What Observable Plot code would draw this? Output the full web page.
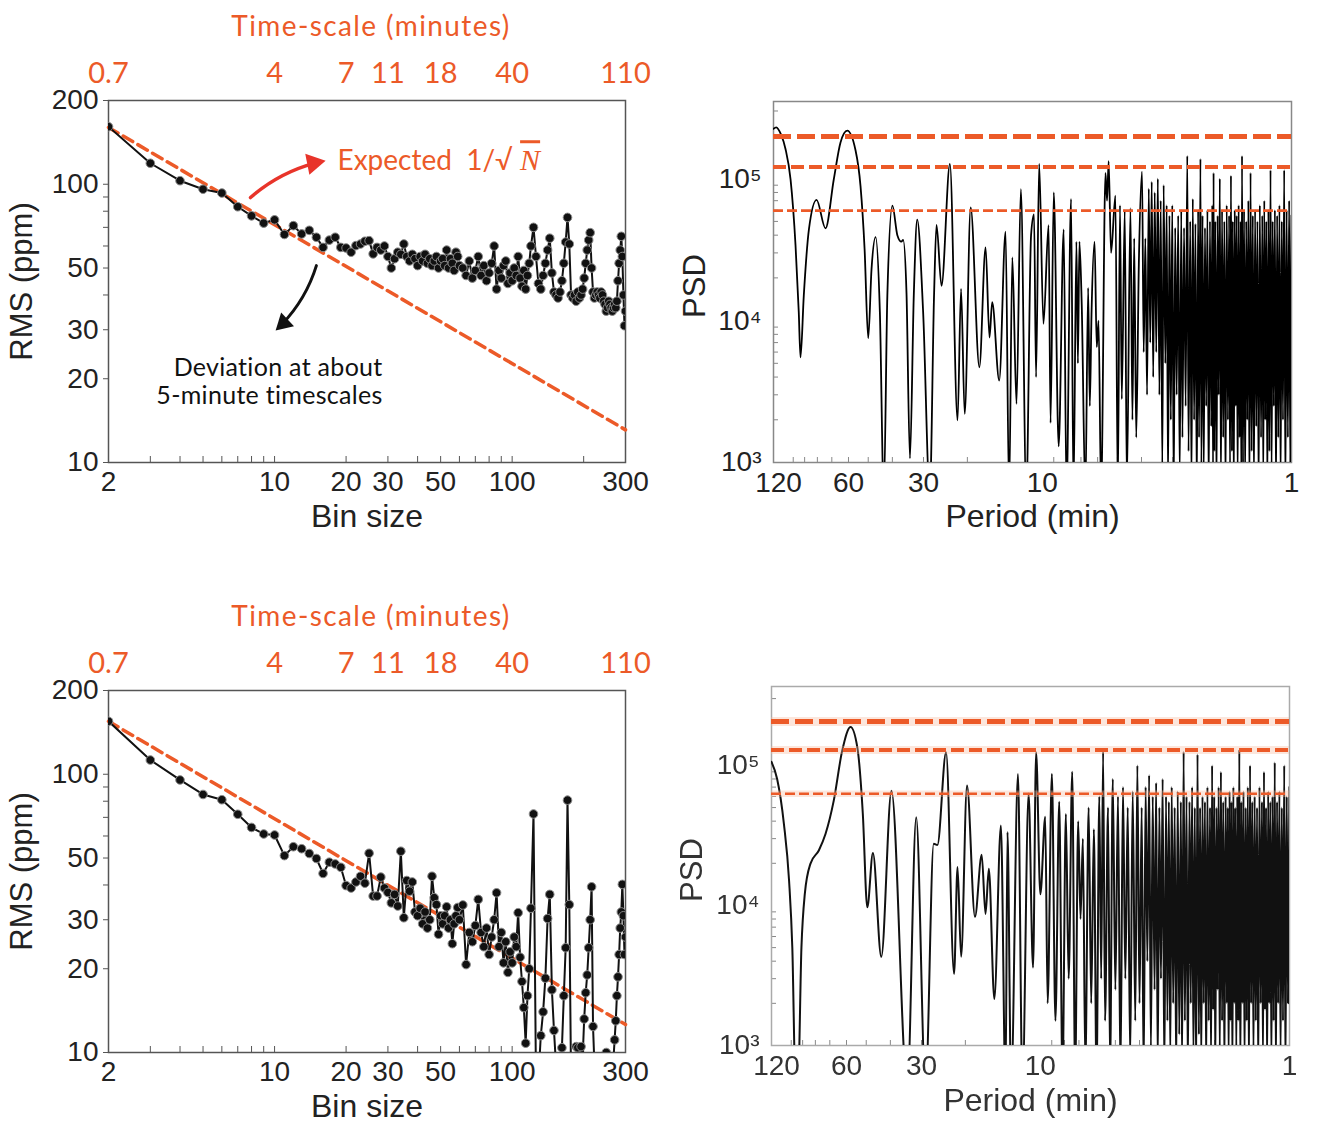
<!DOCTYPE html>
<html>
<head>
<meta charset="utf-8">
<script src="https://cdn.jsdelivr.net/npm/d3@7"></script>
<script src="https://cdn.jsdelivr.net/npm/@observablehq/plot@0.6"></script>
<style>
  body { margin: 0; background: #fff; }
  #page { position: relative; width: 1330px; height: 1130px; overflow: hidden; }
</style>
</head>
<body>
<div id="page"></div>
<script>
// ---- axis ticks / labels ----
const binTicks = [2, 10, 20, 30, 50, 100, 300];
const timeLabels = ["0.7", "4", "7", "11", "18", "40", "110"];
const binMinor = [3, 4, 5, 6, 7, 8, 9, 10, 20, 30, 40, 50, 60, 70, 80, 90, 100, 200, 300];
const rmsTicks = [10, 20, 30, 50, 100, 200];
const rmsMinor = [10, 20, 30, 40, 50, 60, 70, 80, 90, 100, 200];
const periodTicks = [60, 30, 10, 1];
const periodFirstTick = [120];
const periodMinor = [2, 3, 4, 5, 6, 7, 8, 9, 20, 30, 40, 50, 60, 70, 80, 90, 100];
const psdTicks = [1e3, 1e4, 1e5];
const psdLabels = ["10³", "10⁴", "10⁵"];
const psdMinor = [2e3, 3e3, 4e3, 5e3, 6e3, 7e3, 8e3, 9e3, 2e4, 3e4, 4e4, 5e4, 6e4, 7e4, 8e4, 9e4, 2e5, 3e5];

// ---- RMS vs bin size, top ----
const rmsTop = [
  [2,161],[3,119],[4,103],[5,96],[6,93],[7,83],[8,77],[9,72.5],[10,74.5],[11,66],[12,71],[13,66.3],[14,68.3],[15,64.5],
  [16,59.3],[17,63],[18,64.5],[19,59.3],[20,59],[21,57],[22,60.2],[23,61],[24,62.4],[25,62.7],[26,56.2],[27,59.3],[28,58],
  [29,60],[30,55],[31,50],[32,54],[33,57],[34,56],[35,61],[36,55],[37,53],[38,56],[39,54],[40,51],[41,55],[42,53],[43,56],
  [44,52],[45,54],[46,51],[47,53],[48,55],[49,50],[50,53],[51,54],[52,51],[53,58],[54,50],[55,54],[56,52],[57,49],[58,57],
  [59,55],[60,51],[62,50],[64,47],[66,53],[68,46],[70,49],[72,55],[74,47],[76,51],[78,45],[80,48],[82,52],[84,60],[86,42],
  [88,49],[90,46],[92,51],[94,53],[96,44],[98,48],[100,45],[102,50],[104,47],[106,55],[108,46],[110,43],[112,49],[114,42],
  [116,47],[118,52],[120,60],[123,70],[126,55],[129,44],[132,42],[135,47],[138,52],[141,58],[144,64],[147,48],[150,41],
  [153,40],[156,39],[159,41],[162,45],[165,52],[168,62],[171,76],[174,61],[177,40],[180,39],[183,40],[186,38],[189,41],
  [192,39],[195,40],[198,42],[201,46],[204,52],[207,58],[210,63],[213,67],[216,50],[219,41],[222,39],[225,40],[228,41],
  [231,40],[234,39],[237,41],[240,40],[243,38],[246,37],[249,35],[252,36],[255,38],[258,37],[261,36],[264,35],[267,36],
  [270,37],[273,36],[276,38],[279,45],[282,52],[285,58],[288,65],[291,55],[294,40],[297,31],[300,35]
];
const expectedTop = [[2, 160], [300, 13.1]];

// ---- RMS vs bin size, bottom ----
const rmsBottom = [
  [2,155],[3,112.5],[4,95.4],[5,84.6],[6,81],[7,71.8],[8,64.4],[9,61],[10,60.5],[11,51],[12,54.9],[13,54],[14,51.9],
  [15,49.8],[16,44],[17,48.3],[18,47.6],[19,46.3],[20,39.8],[21,39],[22,41],[23,43],[24,40.6],[25,52],[26,36.5],[27,36.5],
  [28,42.7],[29,39],[30,37.6],[31,34.5],[32,37],[33,33.6],[34,52.9],[35,30.5],[36,41.5],[37,38],[38,41],[39,32],[40,31],
  [41,33],[42,29],[43,32],[44,28],[45,30],[46,43],[47,36],[48,34],[49,26.6],[50,31],[51,29],[52,31],[53,33.4],[54,28],
  [55,30],[56,24.6],[57,29],[58,31],[59,33.2],[60,30],[62,33.9],[64,20.7],[66,27],[68,25],[70,28.6],[72,35.5],[74,27],
  [76,24],[78,28],[80,22.5],[82,26],[84,30],[86,37.5],[88,24],[90,27],[92,21],[94,25],[96,19.4],[98,23],[100,21],[102,26],
  [104,24],[106,31.8],[108,22],[110,18],[112,14.5],[114,10.8],[116,16],[118,20],[120,33],[123,72],[126,8],[129,8],
  [132,11.5],[135,14],[138,18.5],[141,30.3],[144,37],[147,16.8],[150,12],[153,9],[156,8],[159,9],[162,10.4],[165,16],
  [168,23.8],[171,80.7],[174,34],[177,8],[180,9],[183,8.5],[186,10.5],[189,10.4],[192,9],[195,10.5],[198,9.5],[201,13.2],
  [204,16.4],[207,19],[210,23.8],[213,30],[216,39.4],[219,12.4],[222,9],[225,8],[228,8.5],[231,9],[234,8],[237,9],[240,8.5],
  [243,8],[246,9.5],[249,10],[252,9],[255,8],[258,8.5],[261,9],[264,8],[267,9.5],[270,11.1],[273,13],[276,16],[279,18.7],
  [282,22.5],[285,28],[288,32],[291,40.2],[294,31],[297,22.5],[300,26]
];
const expectedBottom = [[2, 155], [300, 12.6]];

// ---- PSD vs period, top ----
const psdTop = [
  [120,2.25e5],[117,2.3e5],[112,2.05e5],[107.4,1.62e5],[102.5,9.9e4],[97.9,3.4e4],[95,1.14e4],[93.5,5.5e3],[90.7,1.5e4],
  [86.5,4.4e4],[80.6,7.1e4],[74.2,4.47e4],[68.7,9.95e4],[64.6,1.8e5],[60.7,2.18e5],[56.2,1.58e5],[53.7,8.9e4],[51.7,3.17e4],
  [50,7.5e3],[48.5,2.3e4],[46.7,3.87e4],[44.9,1.15e4],[43.3,600],[41.9,1.5e4],[40,6.46e4],[38.2,4.0e4],[36.8,3.6e4],
  [36.2,3.7e4],[35.1,1.56e4],[34,1.07e3],[32.8,1.55e4],[31.8,5.14e4],[30.1,1.15e4],[28.3,600],[27.2,1.55e4],[26.6,4.72e4],
  [25.4,1.76e4],[23.5,1.27e5],[21.9,1.98e3],[21.2,1.67e4],[20.5,2.2e3],[19.4,6.28e4],[17.9,4.69e3],[16.9,3.28e4],[16.3,7.6e3],
  [15.9,1.35e4],[14.9,3.78e3],[14.05,4.24e4],[13.6,600],[13.2,2.79e4],[12.7,2.59e3],[12.2,8.45e4],[11.6,600],[11.1,4.0e4],
  [10.8,5.6e4],[10.6,4.0e3],[10.3,1.27e5],[9.9,9.5e3],[9.44,4.7e4],[9.27,1.9e3],[9.0,8.0e4],[8.6,1.3e3],
  [8.21,4.4e4],[8.0,600],[7.67,7.2e4],[7.5,600],[7.3,3.6e4],[7.2,5e3],[7.1,3.6e4],[6.95,1.3e4],[6.72,600],[6.55,1.7e4],
  [6.45,2.5e3],[6.35,1.1e4],[6.17,3.6e4],[6.05,6.5e3],[5.95,1.0e4],[5.81,600],[5.58,1.1e5],[5.5,7e4],[5.42,1.33e5],[5.3,3e4],
  [5.09,7.6e4],[4.98,600],[4.88,6.5e4],[4.8,2.8e3],[4.67,6e4],[4.58,700],[4.43,6.2e4],[4.35,2e3],[4.28,3.8e4],[4.2,1.5e3],
  [4.1,2.5e4],[3.98,1.12e5],[3.92,6e3],[3.86,3.8e4],[3.8,3e3],
  [3.74,8.5e4],[3.69,7e3],[3.64,9.5e4],[3.59,4e3],[3.54,8e4],[3.49,6e3],[3.44,1.0e5],[3.39,3e3],[3.35,7e4],[3.3,900],
  [3.26,9e4],[3.21,5e3],[3.17,6.5e4],[3.13,700],[3.09,5.5e4],[3.05,2e3],[3.01,6.5e4],[2.97,600],[2.93,4.5e4],[2.89,3e3],
  [2.85,5.5e4],[2.81,800],[2.77,6e4],[2.74,1.5e3],[2.7,4.5e4],[2.66,2.5e3],[2.62,1.45e5],[2.59,1.2e3],[2.55,5e4],[2.52,700],
  [2.49,7.2e4],[2.46,2e3],[2.43,4.8e4],[2.4,600],[2.37,6e4],[2.35,1.5e3],[2.32,1.38e5],[2.3,900],
  [2.275,5.5e4],[2.25,800],[2.225,4.5e4],[2.2,2.5e3],[2.175,6e4],[2.15,600],[2.125,5e4],[2.1,1.8e3],[2.08,6.5e4],[2.065,700],
  [2.055,1.1e5],[2.04,1.2e3],[2.02,5e4],[2.0,600],[1.98,5.5e4],[1.96,3e3],[1.94,1.0e5],[1.92,700],[1.9,6e4],[1.88,1.5e3],
  [1.86,5e4],[1.84,600],[1.82,6.5e4],[1.8,2e3],[1.78,5.5e4],[1.765,800],[1.75,1.05e5],[1.735,1.2e3],[1.72,5e4],[1.705,600],
  [1.69,6e4],[1.675,2.5e3],[1.66,5.5e4],[1.645,700],[1.63,6.5e4],[1.615,1.5e3],[1.6,5e4],[1.59,600],[1.58,1.45e5],[1.565,1e3],
  [1.55,6e4],[1.535,700],[1.52,5e4],[1.505,2e3],[1.49,7e4],[1.475,600],[1.46,1.1e5],[1.445,1.2e3],[1.43,5.5e4],[1.415,700],
  [1.4,6e4],[1.385,1.8e3],[1.37,5e4],[1.355,600],[1.34,6.5e4],[1.325,1.5e3],[1.31,5.5e4],[1.298,700],[1.286,7e4],[1.274,2e3],
  [1.262,5e4],[1.25,600],[1.238,6e4],[1.226,1.2e3],[1.214,1.15e5],[1.202,800],[1.19,5e4],[1.178,2.5e3],[1.166,6e4],[1.154,600],
  [1.142,5.5e4],[1.13,1.5e3],[1.118,6.5e4],[1.106,700],[1.094,5e4],[1.082,2e3],[1.07,1.15e5],[1.058,600],[1.046,6e4],
  [1.034,1.5e3],[1.022,7e4],[1.011,800],[1.0,5.5e4]
];
const levelsTop = [1.98e5, 1.21e5, 5.96e4];

// ---- PSD vs period, bottom ----
const psdBottom = [
  [120,1.06e5],[113.9,8.0e4],[107,3.83e4],[102,1.5e4],[99,5.0e3],[96,500],[94,500],[91,5e3],[88.2,1.21e4],[83.7,1.99e4],
  [77.5,2.47e4],[72.8,3.25e4],[67.5,5.6e4],[62.4,1.28e5],[57.8,1.88e5],[54.3,1.35e5],[51.6,4.52e4],[49.5,9.7e3],[47,2.37e4],
  [43.5,4.3e3],[39.6,6.6e4],[34.2,500],[31.5,4.27e4],[28.9,500],[26.8,2.76e4],[25.9,2.7e4],[23.9,1.24e5],[22.2,3.25e3],
  [21.5,1.88e4],[20.8,4.3e3],[19.7,7.2e4],[18.3,8.3e3],[17.2,2.3e4],[16.6,8.7e3],[16.1,1.83e4],[15.3,2.15e3],[14.4,3.73e4],
  [13.8,500],[13.55,3.34e4],[13.1,500],[12.3,8.7e4],[11.8,500],[11.15,6.3e4],[10.7,3.6e3],[10.4,1.24e5],[10.0,1.2e4],
  [9.56,4.3e4],[9.35,2e3],[8.99,8.7e4],
  [8.7,1.5e3],[8.4,5.5e4],[8.15,600],[7.9,4.5e4],[7.7,3e3],[7.45,9e4],[7.25,600],[7.05,4e4],[6.9,8e3],[6.75,3e4],[6.6,700],
  [6.4,5e4],[6.25,2e3],[6.1,3.5e4],[5.95,600],[5.8,6e4],[5.7,3e3],[5.6,1.25e5],[5.5,1.5e3],[5.35,5e4],[5.25,700],[5.12,8e4],
  [5.0,2.5e3],[4.88,6e4],[4.77,600],[4.66,7e4],[4.56,3e3],[4.46,5e4],[4.36,800],[4.26,6.5e4],[4.16,1.5e3],[4.08,1.0e5],
  [4.0,2e3],[3.92,5e4],[3.85,600],[3.78,7e4],[3.72,4e3],[3.66,8.5e4],[3.6,900],[3.54,6e4],[3.48,2.5e3],[3.43,7.5e4],
  [3.38,700],[3.33,5e4],[3.28,3e3],[3.23,8e4],[3.18,600],[3.13,6e4],[3.09,1.5e3],[3.05,5.5e4],[3.01,800],[2.97,7e4],
  [2.93,2e3],[2.89,5e4],[2.85,600],[2.81,6.5e4],[2.77,1.2e3],[2.73,5.5e4],[2.7,700],[2.66,1.25e5],[2.63,1.5e3],[2.59,6e4],
  [2.56,600],[2.52,5.5e4],[2.49,2e3],[2.46,7e4],[2.43,800],[2.4,5e4],[2.37,600],[2.34,1.2e5],[2.31,1.2e3],
  [2.285,5e4],[2.26,700],[2.235,6e4],[2.21,2e3],[2.185,5.5e4],[2.16,600],[2.135,7e4],[2.11,1.5e3],[2.085,5e4],[2.065,700],
  [2.045,1.0e5],[2.025,1.8e3],[2.005,6e4],[1.985,600],[1.965,5e4],[1.945,2.5e3],[1.925,7e4],[1.905,800],[1.885,9e4],
  [1.865,1.5e3],[1.845,5.5e4],[1.825,600],[1.805,6e4],[1.785,2e3],[1.77,5e4],[1.755,700],[1.74,6.5e4],[1.725,1.5e3],
  [1.71,5.5e4],[1.695,600],[1.68,7e4],[1.665,2e3],[1.65,5e4],[1.635,800],[1.62,6e4],[1.605,1.5e3],[1.59,1.3e5],[1.575,600],
  [1.56,5.5e4],[1.545,2e3],[1.53,6.5e4],[1.515,700],[1.5,5e4],[1.485,1.5e3],[1.47,7e4],[1.455,600],[1.44,1.0e5],[1.425,2e3],
  [1.41,5.5e4],[1.395,800],[1.38,6e4],[1.365,1.5e3],[1.35,5e4],[1.335,600],[1.32,7e4],[1.305,2e3],[1.29,5.5e4],[1.278,700],
  [1.266,9e4],[1.254,1.8e3],[1.242,5e4],[1.23,600],[1.218,6.5e4],[1.206,2e3],[1.194,5.5e4],[1.182,700],[1.17,6e4],
  [1.158,1.5e3],[1.146,1.05e5],[1.134,600],[1.122,5.5e4],[1.11,2e3],[1.098,6.5e4],[1.086,800],[1.074,5e4],[1.062,1.5e3],
  [1.05,1.0e5],[1.038,600],[1.026,6e4],[1.014,2e3],[1.0,7e4]
];
const levelsBottom = [2.06e5, 1.29e5, 6.28e4];

// ---- annotations (top RMS panel, data units) ----
const redArrow = [{x1: 7.92, y1: 89.6, x2: 16.4, y2: 121.6}];
const blackArrow = [{x1: 15.0, y1: 51, x2: 10.1, y2: 29.8}];
const expectedNote = [{bin: 18.4, rms: 121.6, text: "Expected  1/√"}];
const expectedN = [{bin: 119, rms: 121.6, text: "N"}];
const deviationNote = [{bin: 28.5, rms: 19.7, text: "Deviation at about\n5-minute timescales"}];

// ---- styling ----
const orange = "#ec5a28";
const red = "#e8342a";
const ink = "#222";
const sans = "'Liberation Sans', Arial, sans-serif";
const timeByBin = new Map(binTicks.map((b, i) => [b, timeLabels[i]]));
const psdLabelByTick = new Map(psdTicks.map((t, i) => [t, psdLabels[i]]));

const asRms = (rows) => rows.map(([bin, rms]) => ({bin, rms}));
const asPsd = (rows) => rows.map(([period, psd]) => ({period, psd}));

function rmsPanel(series, expected, extra) {
  return Plot.plot({
    width: 660, height: 540,
    marginTop: 100, marginRight: 35, marginBottom: 78, marginLeft: 108,
    style: {fontFamily: sans, background: "transparent", overflow: "visible", color: ink},
    x: {type: "log", domain: [2, 300], label: null},
    y: {type: "log", domain: [10, 200], label: null},
    marks: [
      Plot.axisY(rmsMinor, {tickSize: 5, tickFormat: () => "", stroke: "#555", label: null}),
      Plot.axisY(rmsTicks, {tickSize: 0, tickPadding: 10, fontSize: 28, tickFormat: d => String(d), color: ink, label: null}),
      Plot.axisX(binMinor, {tickSize: 6, dy: -6, tickFormat: () => "", stroke: "#555", label: null}),
      Plot.text(binTicks, {x: d => d, text: d => String(d), frameAnchor: "bottom", dy: 20, lineAnchor: "middle",
        fontSize: 28, fill: ink}),
      Plot.text(binTicks, {x: d => d, text: d => timeByBin.get(d), frameAnchor: "top", dy: -27, lineAnchor: "middle",
        fontSize: 29, fontFamily: "Lato", fill: orange}),
      Plot.frame({stroke: "#555", strokeWidth: 1.5}),
      Plot.line(expected, {x: "bin", y: "rms", stroke: orange, strokeWidth: 3.5, strokeDasharray: "11,6"}),
      Plot.line(series, {x: "bin", y: "rms", stroke: "#111", strokeWidth: 2, clip: true}),
      Plot.dot(series, {x: "bin", y: "rms", r: 4.3, fill: "#111", stroke: "#8a8a8a", strokeWidth: 1, clip: true}),
      Plot.text(["RMS (ppm)"], {frameAnchor: "left", dx: -86, rotate: -90, textAnchor: "middle", lineAnchor: "middle",
        fontSize: 31, fill: ink}),
      Plot.text(["Bin size"], {frameAnchor: "bottom", dy: 54, textAnchor: "middle", lineAnchor: "middle", fontSize: 32, fill: ink}),
      Plot.text(["Time-scale (minutes)"], {frameAnchor: "top", dy: -73, dx: 4, textAnchor: "middle", lineAnchor: "middle",
        fontSize: 28, fontFamily: "Lato", fill: orange}),
      ...extra
    ]
  });
}

function psdPanel(series, levels, o) {
  const dashes = ["18,6", "13,5", "10,4"];
  const widths = [5, 4, 2.6];
  const rules = [];
  levels.forEach((lv, i) => {
    if (o.glow) rules.push(Plot.ruleY([lv], {stroke: "#f6b79a", strokeWidth: widths[i] + 4, strokeOpacity: 0.35}));
    rules.push(Plot.ruleY([lv], {stroke: orange, strokeWidth: widths[i], strokeDasharray: dashes[i]}));
  });
  return Plot.plot({
    width: 670, height: 540,
    marginTop: o.top, marginRight: o.right, marginBottom: o.bottom, marginLeft: o.left,
    style: {fontFamily: sans, background: "transparent", overflow: "visible", color: o.ink},
    x: {type: "log", domain: [120, 1], label: null},
    y: {type: "log", domain: [1e3, o.ymax], label: null},
    marks: [
      Plot.axisY(psdMinor, {tickSize: 5, dx: 5, tickFormat: () => "", stroke: "#888", label: null}),
      Plot.axisY(psdTicks, {tickSize: 0, tickPadding: 12, fontSize: 28, tickFormat: d => psdLabelByTick.get(d), color: o.ink, label: null}),
      Plot.axisX(periodMinor, {tickSize: 5, dy: -5, tickFormat: () => "", stroke: "#888", label: null}),
      Plot.text(periodTicks, {x: d => d, text: d => String(d), frameAnchor: "bottom", dy: 21, lineAnchor: "middle",
        fontSize: 28, fill: o.ink}),
      Plot.text(periodFirstTick, {x: d => d, text: d => String(d), frameAnchor: "bottom", dy: 21, dx: 5, lineAnchor: "middle",
        fontSize: 28, fill: o.ink}),
      Plot.frame({stroke: o.frame, strokeWidth: 1.5}),
      Plot.line(series, {x: "period", y: "psd", curve: "monotone-x", stroke: o.line, strokeWidth: o.lineWidth, clip: true}),
      ...rules,
      Plot.text(["PSD"], {frameAnchor: "left", dx: o.labelDx, dy: 4, rotate: -90, textAnchor: "middle", lineAnchor: "middle",
        fontSize: 31, fill: o.ink}),
      Plot.text(["Period (min)"], {frameAnchor: "bottom", dy: o.labelDy, textAnchor: "middle", lineAnchor: "middle",
        fontSize: 32, fill: o.ink})
    ]
  });
}

const topNotes = [
  Plot.arrow(redArrow, {x1: "x1", y1: "y1", x2: "x2", y2: "y2", bend: 15, stroke: red, strokeWidth: 3.5,
    headLength: 0, insetEnd: 10}),
  Plot.dot(redArrow, {x: "x2", y: "y2", symbol: "triangle", r: 8, fill: red, rotate: 79, dx: -12.2, dy: 2.4}),
  Plot.arrow(blackArrow, {x1: "x1", y1: "y1", x2: "x2", y2: "y2", bend: 15, stroke: "#111", strokeWidth: 3,
    headLength: 0, insetEnd: 9}),
  Plot.dot(blackArrow, {x: "x2", y: "y2", symbol: "triangle", r: 7, fill: "#111", rotate: 227, dx: 8, dy: -7.4}),
  Plot.text(expectedNote, {x: "bin", y: "rms", text: "text", textAnchor: "start", lineAnchor: "middle",
    fontSize: 28, fontFamily: "Lato", fill: orange}),
  Plot.text(expectedN, {x: "bin", y: "rms", text: "text", textAnchor: "middle", lineAnchor: "middle",
    fontSize: 30, fontFamily: "'Liberation Serif', serif", fontStyle: "italic", fill: orange}),
  Plot.text(deviationNote, {x: "bin", y: "rms", text: "text", textAnchor: "end", lineAnchor: "middle",
    lineHeight: 1.12, fontSize: 25, fontFamily: "Lato", fill: "#111"})
];

const page = document.getElementById("page");
function place(svg, left, top) {
  svg.style.position = "absolute";
  svg.style.left = left + "px";
  svg.style.top = top + "px";
  page.appendChild(svg);
  const texts = d3.select(svg).selectAll("text");
  texts.filter(function() { return this.textContent === "Time-scale (minutes)"; }).attr("letter-spacing", 1.4);
  texts.filter(function() { return this.textContent.startsWith("Deviation"); }).attr("letter-spacing", 0.3);
  texts.filter(function() { return this.textContent === "N"; }).style("text-decoration", "overline");
  return svg;
}

place(rmsPanel(asRms(rmsTop), asRms(expectedTop), topNotes), 0, 0);
place(rmsPanel(asRms(rmsBottom), asRms(expectedBottom), []), 0, 590);

place(psdPanel(asPsd(psdTop), levelsTop, {
  top: 101, right: 39, bottom: 78, left: 113, ymax: 3.5e5, ink: ink, frame: "#888",
  line: "#000", lineWidth: 1.8, labelDx: -78, labelDy: 54
}), 660, 0);

const br = place(psdPanel(asPsd(psdBottom), levelsBottom, {
  top: 96, right: 41, bottom: 85, left: 111, ymax: 3.66e5, ink: "#333", frame: "#aaa",
  line: "#111", lineWidth: 2, labelDx: -79, labelDy: 55, glow: true
}), 660, 590);
br.style.filter = "blur(0.35px)";
</script>
</body>
</html>
